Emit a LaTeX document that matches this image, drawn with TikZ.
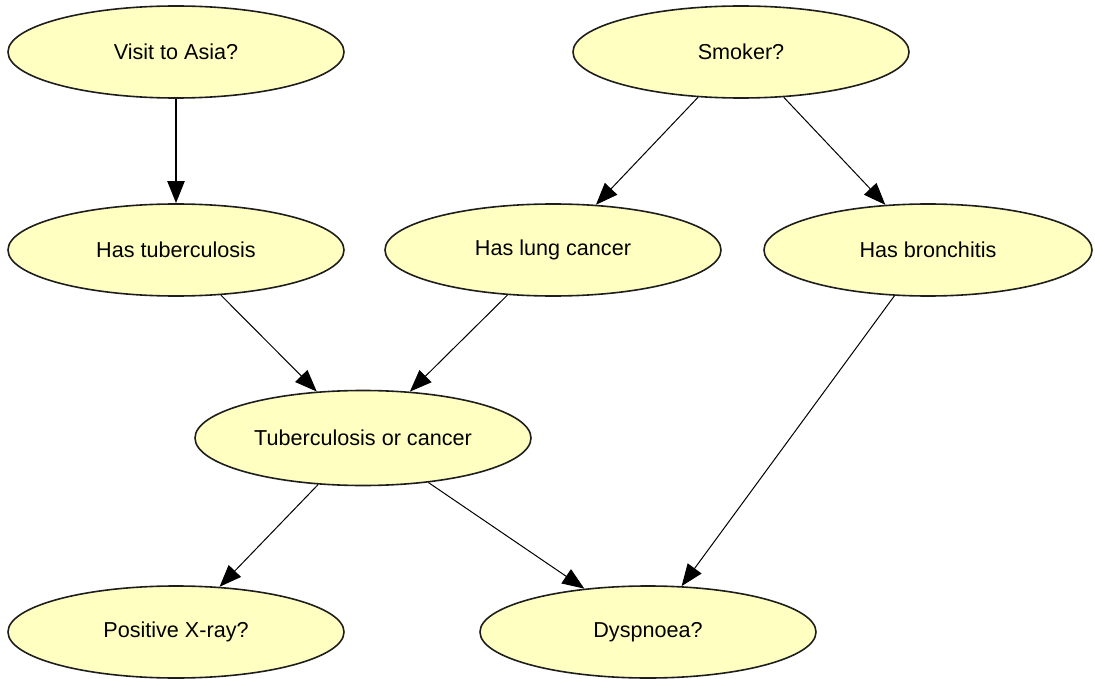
\documentclass[tikz,border=0pt]{standalone}
\usepackage{fontspec}
\setmainfont{Liberation Sans}
\usetikzlibrary{shapes.geometric,arrows.meta}
\definecolor{nodefill}{RGB}{255,255,194}
\definecolor{nodeline}{RGB}{30,30,30}
\tikzset{
  bnode/.style={ellipse, draw=nodeline, line width=1.6pt, fill=nodefill,
    minimum width=336pt, minimum height=92pt, inner sep=0pt,
    font=\fontsize{21.6}{24}\selectfont},
  link/.style={draw=black, line width=1pt, -{Triangle[length=22pt,width=17pt]}},
  thicklink/.style={link, line width=2pt}
}
\begin{document}
\begin{tikzpicture}[x=1pt,y=-1pt]
\useasboundingbox (0,0) rectangle (1095,679);
\node[bnode] (asia) at (176,52) {Visit to Asia?};
\node[bnode] (smoker) at (741,52) {Smoker?};
\node[bnode] (tub) at (176,250) {Has tuberculosis};
\node[bnode] (lung) at (553,250) {Has lung cancer};
\node[bnode, minimum width=328pt] (bron) at (928,250) {Has bronchitis};
\node[bnode, minimum height=95pt] (torc) at (363,438) {Tuberculosis or cancer};
\node[bnode] (xray) at (176,632) {Positive X-ray?};
\node[bnode] (dysp) at (648,632) {Dyspnoea?};
\draw[thicklink] (asia) -- (tub);
\draw[link] (smoker) -- (lung);
\draw[link] (smoker) -- (bron);
\draw[link] (tub) -- (torc);
\draw[link] (lung) -- (torc);
\draw[link] (bron) -- (dysp);
\draw[link] (torc) -- (xray);
\draw[link] (torc) -- (dysp);
\end{tikzpicture}
\end{document}
